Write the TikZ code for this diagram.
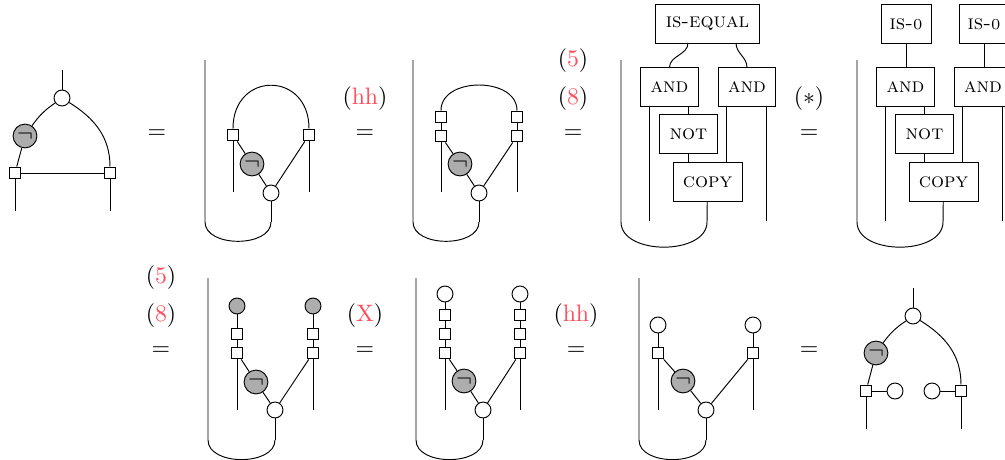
\documentclass[tikz,border=0pt]{standalone}
\usepackage{amsmath}
\usepackage{amssymb}
\usepackage{tikz}
\usetikzlibrary{positioning}
\definecolor{cref}{rgb}{1.0, 0.3, 0.35}
\definecolor{cneg}{gray}{0.68}
\def\symbref#1{\textcolor{cref}{#1}}
\def\symbzero{{\fontsize{6.4}{8}\selectfont\upshape 0}}
\tikzset{
  wirebox/.style={draw, fill=white, minimum size=5pt, inner sep=0pt},
  rootnode/.style={draw, circle, fill=white, minimum size=6.7pt, inner sep=0pt},
  zeronode/.style={draw, circle, fill=cneg, minimum size=6.7pt, inner sep=0pt},
  negnode/.style={draw, circle, fill=cneg, minimum size=10pt, inner sep=0pt},
  gate/.style={draw, fill=white, minimum height=16pt, inner sep=0pt, font=\fontsize{8.6}{10}\selectfont\scshape},
}

\begin{document}
\begin{tikzpicture}[x=0.42pt, y=0.42pt]
  \useasboundingbox (0, 0) rectangle (1005, -459);

  % equals signs
  \foreach \n/\px/\py in {ea/157/134, eb/365/134, ec/573/134, ed/809/134,
      ef/161/351, eg/365/351, eh/576/351, ei/809/351}
    \node (\n) at (\px, -\py) {$=$};
  % references above them
  \foreach \n/\px/\py/\txt in {rb/365/98.5/{\mathrm{hh}}, rc/573/98.5/8, rf/161/316/8, rg/365/316/{\mathrm{X}}, rh/576/316/{\mathrm{hh}},
      sc/573/60.5/5, sf/161/278/5}
    \node (\n) at (\px, -\py) {$(\symbref{\txt})$};
  \node (rd) at (809, -98.5) {$(*)$};

  % open wires and their cups
  \foreach \n/\pl/\pr/\pt/\pm in {b/205/271/60/222, c/413/479/60/222, d/621/707/60/222, e/857/943/60/222,
      f/208/275/278/440, g/416/483/278/440, h/639/706/278/440} {
    \coordinate (top\n) at (\pl, -\pt);
    \coordinate (cupl\n) at (\pl, -\pm);
    \coordinate (cupr\n) at (\pr, -\pm);
    \draw (top\n) -- (cupl\n) to[out=-90, in=-90] (cupr\n);
  }

  % roots and negations
  \foreach \n/\px/\py in {a/62/98, b/271/193, c/479/193, f/275/410, g/483/410, h/706/410, i/913/316}
    \node [rootnode] (root\n) at (\px, -\py) {};
  \foreach \n/\px/\py in {a/25/136, b/252/164, c/460/164, f/256/382, g/464/381, h/683/381, i/876/353}
    \node [negnode] (neg\n) at (\px, -\py) {$\neg$};

  % squares with a wire going down
  \foreach \n/\px/\py/\pe in {la/15/173/211, ra/110/173/211, lb/233/135/192, rb/309/135/192,
      lc/441/136/192, rc/517/136/192, lf/237/353/410, rf/313/353/410,
      lg/445/353/410, rg/520/353/410, lh/658/353/410, rh/753/353/410,
      li/866/391/429, ri/961/391/429} {
    \node [wirebox] (sq\n) at (\px, -\py) {};
    \coordinate (end\n) at (\px, -\pe);
    \draw (sq\n) -- (end\n);
  }
  % squares stacked above
  \foreach \n/\px/\py in {ulc/441/117, urc/517/117, ulf/237/334, urf/313/334,
      ulg/445/334, urg/520/334, vlg/445/315, vrg/520/315}
    \node [wirebox] (sq\n) at (\px, -\py) {};

  % caps
  \foreach \n/\px/\py in {zlf/237/306, zrf/313/306}
    \node [zeronode] (\n) at (\px, -\py) {};
  \foreach \n/\px/\py in {zlg/445/294, zrg/520/294, zlh/658/325, zrh/753/325, zli/895/391, zri/932/391}
    \node [rootnode] (\n) at (\px, -\py) {};

  % straight wires
  \foreach \a/\b in {nega/sqla, sqla/sqra, sqlb/negb, negb/rootb, sqrb/rootb,
      sqlc/negc, negc/rootc, sqrc/rootc, sqlc/squlc, sqrc/squrc,
      sqlf/negf, negf/rootf, sqrf/rootf, sqlf/squlf, sqrf/squrf, squlf/zlf, squrf/zrf,
      sqlg/negg, negg/rootg, sqrg/rootg, sqlg/squlg, sqrg/squrg, squlg/sqvlg, squrg/sqvrg,
      sqvlg/zlg, sqvrg/zrg,
      sqlh/negh, negh/rooth, sqrh/rooth, sqlh/zlh, sqrh/zrh,
      negi/sqli, sqli/zli, sqri/zri}
    \draw (\a) -- (\b);
  \foreach \n in {b, c, f, g, h}
    \draw (root\n) -- (cupr\n);

  % arcs
  \draw (sqlb) to[out=90, in=90, looseness=1.95] (sqrb);
  \coordinate (apexc) at (479, -85);
  \draw (squlc) to[out=90, in=180] (apexc) to[out=0, in=90] (squrc);
  \foreach \n/\px/\py in {a/62/70, i/913/288} {
    \coordinate (stem\n) at (\px, -\py);
    \draw (root\n) -- (stem\n);
    \draw (root\n) to[bend right=10] (neg\n);
    \draw (root\n) to[out=-32, in=90] (sqr\n);
  }

  % gates, first circuit
  \node [gate, minimum width=43.3pt] (iseq) at (707.5, -24) {is-equal};
  \node [gate, minimum width=24pt] (andlD) at (669.5, -87) {and};
  \node [gate, minimum width=24pt] (andrD) at (747, -87) {and};
  \node [gate, minimum width=24pt] (notD) at (688.5, -134) {not};
  \node [gate, minimum width=29pt] (copyD) at (707.5, -182) {copy};
  \coordinate (iseqa) at (688, -43);
  \coordinate (iseqb) at (736, -43);
  \draw (iseqa) to[out=-90, in=90] (andlD);
  \draw (iseqb) to[out=-90, in=90] (andrD);
  \draw (copyD) -- (cuprd);
  \draw (notD) -- (notD |- andlD.south);
  \draw (notD) -- (notD |- copyD.north);
  \foreach \a/\px/\pt/\pe in {aD/649/106/221, bD/726/106/163, cD/766/106/221} {
    \coordinate (wire\a) at (\px, -\pt);
    \coordinate (wend\a) at (\px, -\pe);
    \draw (wire\a) -- (wend\a);
  }

  % gates, second circuit
  \node [gate, minimum width=21pt] (isza) at (906, -24) {is-\symbzero};
  \node [gate, minimum width=21pt] (iszb) at (984, -24) {is-\symbzero};
  \node [gate, minimum width=24pt] (andlE) at (905.5, -87) {and};
  \node [gate, minimum width=24pt] (andrE) at (983, -87) {and};
  \node [gate, minimum width=24pt] (notE) at (924.5, -134) {not};
  \node [gate, minimum width=29pt] (copyE) at (943.5, -182) {copy};
  \draw (isza) -- (isza |- andlE.north);
  \draw (iszb) -- (iszb |- andrE.north);
  \draw (copyE) -- (cupre);
  \draw (notE) -- (notE |- andlE.south);
  \draw (notE) -- (notE |- copyE.north);
  \foreach \a/\px/\pt/\pe in {aE/885/106/221, bE/962/106/163, cE/1002/106/221} {
    \coordinate (wire\a) at (\px, -\pt);
    \coordinate (wend\a) at (\px, -\pe);
    \draw (wire\a) -- (wend\a);
  }
\end{tikzpicture}
\end{document}
